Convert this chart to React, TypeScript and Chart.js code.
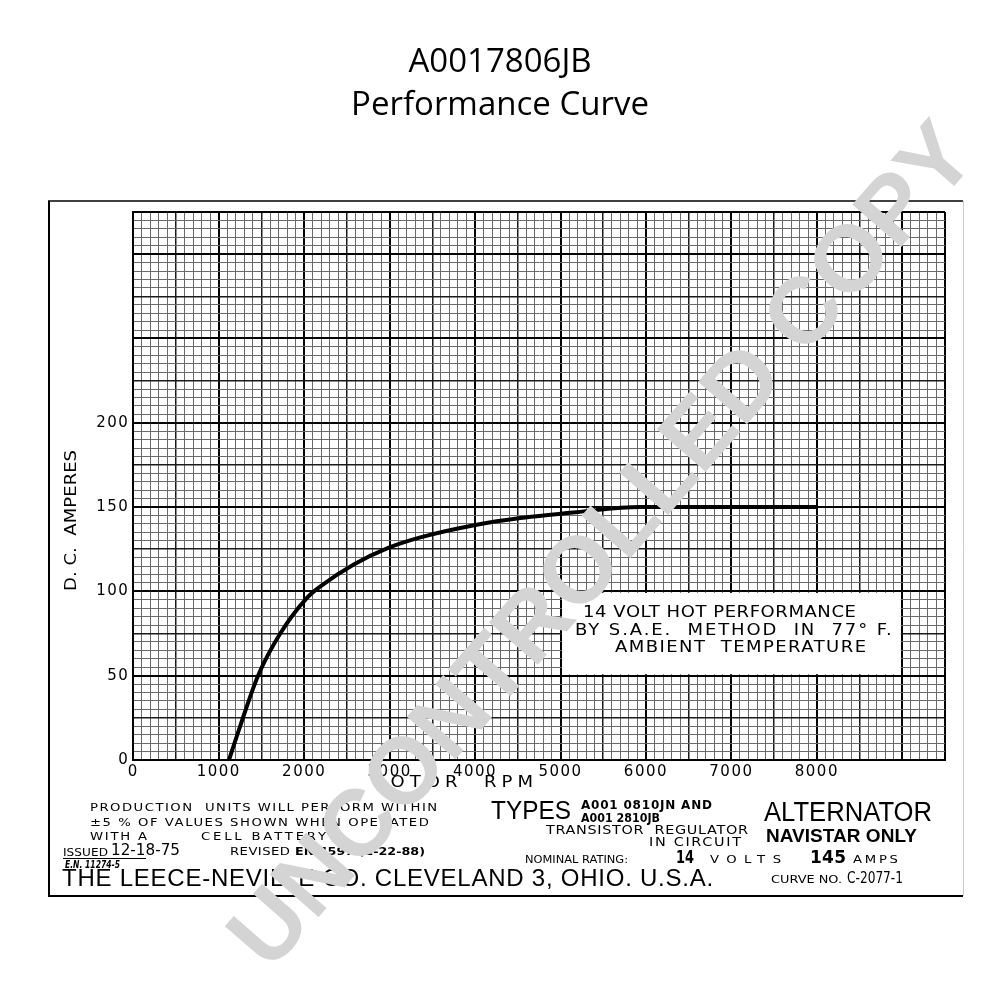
import React, { useEffect, useRef } from 'react';
import { Chart, registerables } from 'chart.js';

Chart.register(...registerables);

// ---- data ----
const rotorRpm = [1120, 1250, 1460, 1720, 2030, 2190, 2580, 2970, 3360, 4020, 4530, 5190, 5930, 7000, 8000];
const dcAmperes = [0, 20, 50, 75, 96, 103, 116, 125.5, 132, 139.5, 143.5, 147, 150, 150, 150];

const xTickLabels = [0, 1000, 2000, 3000, 4000, 5000, 6000, 7000, 8000];
const yTickLabels = [0, 50, 100, 150, 200];

const titleLines = ['A0017806JB', 'Performance Curve'];
const xAxisTitle = 'ROTOR  RPM';
const yAxisTitle = 'D. C.  AMPERES';
const noteLines = ['14 VOLT HOT PERFORMANCE', 'BY S.A.E.  METHOD  IN  77° F.', 'AMBIENT  TEMPERATURE'];
const noteBoxRpm = [5000, 9000];
const noteBoxAmps = [50, 100];
const watermark = 'UNCONTROLLED COPY';

function fitText(ctx: CanvasRenderingContext2D, text: string, x1: number, x2: number, y: number, font: string, stretch = 1, color = '#000') {
  ctx.save();
  ctx.font = font;
  ctx.fillStyle = color;
  ctx.textBaseline = 'middle';
  ctx.textAlign = 'left';
  (ctx as any).letterSpacing = '0px';
  const target = x2 - x1;
  const w = ctx.measureText(text).width * stretch;
  const n = Array.from(text).length;
  ctx.translate(x1, y);
  ctx.scale(stretch, 1);
  if (w < target && n > 1) {
    (ctx as any).letterSpacing = ((target - w) / (n - 1) / stretch).toFixed(2) + 'px';
    ctx.fillText(text, 0, 0);
  } else {
    ctx.fillText(text, 0, 0, target / stretch);
  }
  ctx.restore();
}

const paperPlugin = {
  id: 'paper',
  beforeDraw(chart: any) {
    const ctx = chart.ctx as CanvasRenderingContext2D;
    ctx.save();
    ctx.fillStyle = '#fff';
    ctx.fillRect(0, 0, chart.width, chart.height);
    ctx.restore();
    (ctx as any).letterSpacing = '1.5px';
  },
  beforeDatasetsDraw(chart: any) {
    const ctx = chart.ctx as CanvasRenderingContext2D;
    const xs = chart.scales.x;
    const ys = chart.scales.y;
    const l = xs.getPixelForValue(noteBoxRpm[0]);
    const r = xs.getPixelForValue(noteBoxRpm[1]);
    const t = ys.getPixelForValue(noteBoxAmps[1]);
    const b = ys.getPixelForValue(noteBoxAmps[0]);
    ctx.save();
    ctx.fillStyle = '#fff';
    ctx.fillRect(l + 1.5, t + 1.5, r - l - 3, b - t - 3);
    ctx.restore();
    const f = '15px "DejaVu Sans"';
    fitText(ctx, noteLines[0], 583, 856, 613, f, 1.2);
    fitText(ctx, noteLines[1], 575, 892, 631, f, 1.2);
    fitText(ctx, noteLines[2], 615, 866, 648, f, 1.2);
  },
  afterDraw(chart: any) {
    const ctx = chart.ctx as CanvasRenderingContext2D;
    (ctx as any).letterSpacing = '0px';
    // titles
    ctx.save();
    ctx.font = '33px "Open Sans"';
    ctx.fillStyle = '#000';
    ctx.textAlign = 'center';
    ctx.textBaseline = 'middle';
    ctx.fillText(titleLines[0], 500, 63);
    ctx.fillText(titleLines[1], 500, 106);
    ctx.restore();

    // axis titles
    fitText(ctx, xAxisTitle, 373, 533, 783, '15px "DejaVu Sans"', 1.2);
    ctx.save();
    ctx.translate(72, 591);
    ctx.rotate(-Math.PI / 2);
    fitText(ctx, yAxisTitle, 0, 141, 0, '15px "DejaVu Sans"', 1.2);
    ctx.restore();

    // frame
    ctx.save();
    ctx.strokeStyle = '#000';
    ctx.lineWidth = 2;
    ctx.beginPath();
    ctx.moveTo(49, 201); ctx.lineTo(49, 897);
    ctx.moveTo(48, 896); ctx.lineTo(963, 896);
    ctx.stroke();
    ctx.lineWidth = 1.5;
    ctx.beginPath();
    ctx.moveTo(48, 201); ctx.lineTo(963, 201);
    ctx.stroke();
    ctx.strokeStyle = '#ccc';
    ctx.lineWidth = 1;
    ctx.beginPath();
    ctx.moveTo(963.5, 201); ctx.lineTo(963.5, 896);
    ctx.stroke();
    ctx.restore();

    // footer, left
    const s = '11px "DejaVu Sans"';
    fitText(ctx, 'PRODUCTION  UNITS WILL PERFORM WITHIN', 90, 437, 808, s, 1.2);
    fitText(ctx, '±5 % OF VALUES SHOWN WHEN OPERATED', 90, 429, 823, s, 1.2);
    fitText(ctx, 'WITH A', 90, 147, 837, s, 1.2);
    fitText(ctx, 'CELL BATTERY', 201, 326, 837, s, 1.2);
    fitText(ctx, 'ISSUED', 63, 108, 853, '11px "DejaVu Sans"', 1.1);
    fitText(ctx, '12-18-75', 111, 180, 851, '15px "DejaVu Sans"', 1.1);
    ctx.save();
    ctx.strokeStyle = '#000';
    ctx.lineWidth = 1;
    ctx.beginPath();
    ctx.moveTo(63, 858.5); ctx.lineTo(146, 858.5);
    ctx.stroke();
    ctx.restore();
    fitText(ctx, 'E.N. 11274-5', 65, 120, 865, 'italic bold 10px "DejaVu Sans"');
    fitText(ctx, 'REVISED', 230, 290, 852, s, 1.2);
    fitText(ctx, 'EN 4597 (2-22-88)', 295, 425, 852, 'bold 11px "DejaVu Sans"', 1.2);
    fitText(ctx, 'THE LEECE-NEVILLE CO. CLEVELAND 3, OHIO. U.S.A.', 62, 713, 879, '24px "Liberation Sans"');

    // footer, right
    fitText(ctx, 'TYPES', 491, 571, 812, '25px "Liberation Sans"');
    fitText(ctx, 'A001 0810JN AND', 581, 712, 806, 'bold 12px "DejaVu Sans"');
    fitText(ctx, 'A001 2810JB', 581, 660, 819, 'bold 12px "DejaVu Sans"');
    fitText(ctx, 'TRANSISTOR  REGULATOR', 546, 748, 831, '12px "DejaVu Sans"', 1.2);
    fitText(ctx, 'IN CIRCUIT', 649, 741, 843, '12px "DejaVu Sans"', 1.2);
    fitText(ctx, 'NOMINAL RATING:', 525, 628, 860, s, 1.2);
    fitText(ctx, '14', 676, 694, 859, 'bold 17px "DejaVu Sans"');
    fitText(ctx, 'VOLTS', 710, 781, 860, s, 1.2);
    fitText(ctx, '145', 810, 846, 859, 'bold 17px "DejaVu Sans"');
    fitText(ctx, 'AMPS', 853, 898, 860, s, 1.2);
    fitText(ctx, 'ALTERNATOR', 764, 932, 814, '27px "Liberation Sans"');
    fitText(ctx, 'NAVISTAR ONLY', 766, 917, 837, 'bold 19px "Liberation Sans"');
    fitText(ctx, 'CURVE NO.', 771, 842, 880, s, 1.2);
    fitText(ctx, 'C-2077-1', 847, 903, 879, '16px "DejaVu Sans"');

    // watermark
    ctx.save();
    ctx.translate(605, 548);
    ctx.rotate(-49 * Math.PI / 180);
    ctx.font = 'bold 94px "Liberation Sans"';
    ctx.fillStyle = '#d4d4d4';
    ctx.textAlign = 'center';
    ctx.textBaseline = 'middle';
    ctx.fillText(watermark, 0, 0);
    ctx.restore();
  },
};

const gridStyle = (major: number, mid: number, max: number) => ({
  color: (c: any) => {
    const v = Math.round(c.tick?.value ?? 0);
    if (v % major === 0 || v === max) return '#000';
    if (v % mid === 0) return '#1a1a1a';
    return '#6a6a6a';
  },
  lineWidth: (c: any) => {
    const v = Math.round(c.tick?.value ?? 0);
    if (v % major === 0 || v === max) return 2;
    if (v % mid === 0) return 1.5;
    return 1;
  },
  drawTicks: false,
});

export default function App() {
  const ref = useRef<HTMLCanvasElement | null>(null);
  useEffect(() => {
    if (!ref.current) return;
    const chart = new Chart(ref.current, {
      type: 'line',
      data: {
        datasets: [
          {
            data: rotorRpm.map((x, i) => ({ x, y: dcAmperes[i] })),
            borderColor: '#000',
            borderWidth: 4,
            pointRadius: 0,
            cubicInterpolationMode: 'monotone',
            fill: false,
          },
        ],
      },
      options: {
        responsive: false,
        animation: false,
        layout: { padding: { top: 212, left: 50, right: 55, bottom: 200 } },
        plugins: { legend: { display: false }, title: { display: false }, tooltip: { enabled: false } },
        scales: {
          x: {
            type: 'linear',
            min: 0,
            max: 9500,
            afterFit: (s: any) => { s.height = 40; },
            ticks: {
              stepSize: 100,
              autoSkip: false,
              maxRotation: 0,
              minRotation: 0,
              padding: 3,
              color: '#000',
              font: { family: 'DejaVu Sans', size: 15 },
              callback: (v: any) => (xTickLabels.includes(Math.round(v)) ? String(Math.round(v)) : ''),
            },
            grid: gridStyle(1000, 500, 9500),
            border: { display: true, color: '#000', width: 2 },
          },
          y: {
            type: 'linear',
            min: 0,
            max: 325,
            afterFit: (s: any) => { s.width = 83.3; },
            ticks: {
              stepSize: 5,
              autoSkip: false,
              padding: 4,
              color: '#000',
              font: { family: 'DejaVu Sans', size: 15 },
              callback: (v: any) => (yTickLabels.includes(Math.round(v)) ? String(Math.round(v)) : ''),
            },
            grid: gridStyle(50, 25, 325),
            border: { display: true, color: '#000', width: 2 },
          },
        },
      },
      plugins: [paperPlugin],
    } as any);
    return () => chart.destroy();
  }, []);
  return (
    <div style={{ position: 'fixed', left: 0, top: 0, width: 1000, height: 1000, background: '#fff' }}>
      <canvas ref={ref} width={1000} height={1000} style={{ width: 1000, height: 1000, display: 'block' }} />
    </div>
  );
}
